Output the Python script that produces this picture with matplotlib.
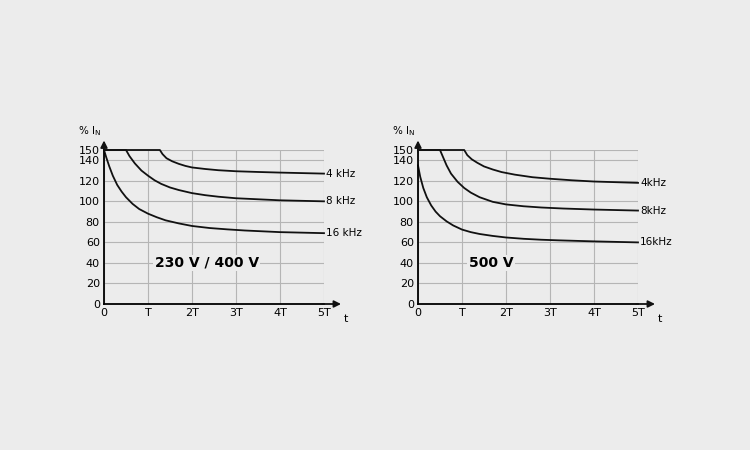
import matplotlib.pyplot as plt
import numpy as np

yticks = [0, 20, 40, 60, 80, 100, 120, 140, 150]
xticks = [0, 1, 2, 3, 4, 5]
xlabels = ['0', 'T', '2T', '3T', '4T', '5T']

L4t = [0, 1.27, 1.33, 1.42, 1.55, 1.7, 1.85, 2.0, 2.3, 2.6, 3.0, 3.5, 4.0, 5.0]
L4v = [150, 150, 146, 142, 139, 136.5, 134.5, 133, 131.5, 130.3, 129.3, 128.6, 128, 127]
L8t = [0, 0.5, 0.58, 0.7, 0.85, 1.0, 1.15, 1.3, 1.5, 1.7, 2.0, 2.3, 2.6, 3.0, 3.5, 4.0, 5.0]
L8v = [150, 150, 144, 137, 130, 125, 120.5, 117, 113.5, 111, 108, 106, 104.5, 103, 102, 101, 100]
L16t = [0, 0.05, 0.12, 0.2, 0.3, 0.4, 0.5, 0.65, 0.8, 1.0, 1.2, 1.4, 1.7, 2.0, 2.4, 2.8, 3.2, 4.0, 5.0]
L16v = [150, 143, 134, 125, 116, 109.5, 104, 97.5, 92.5, 88, 84.5, 81.5, 78.5, 76, 74, 72.7, 71.6, 70, 69]

R4t = [0, 1.05, 1.12, 1.22, 1.35, 1.5, 1.7, 1.9, 2.2, 2.6, 3.0, 3.5, 4.0, 5.0]
R4v = [150, 150, 145, 141, 137.5, 134, 131, 128.5, 126, 123.5, 122, 120.5, 119.3, 118]
R8t = [0, 0.5, 0.57, 0.65, 0.75, 0.9, 1.05, 1.2, 1.4, 1.7, 2.0, 2.4, 2.8, 3.3, 4.0, 5.0]
R8v = [150, 150, 143, 135, 127, 119, 113, 108.5, 104, 99.5, 97, 95.2, 94, 93, 92, 91]
R16t = [0, 0.05, 0.12, 0.2, 0.3, 0.4, 0.5, 0.65, 0.8, 1.0, 1.2, 1.4, 1.7, 2.0, 2.4, 2.8, 3.2, 4.0, 5.0]
R16v = [135, 124, 113, 104, 96, 90, 85.5, 80.5, 76.5, 72.5, 70, 68.2, 66.3, 64.8, 63.5, 62.6, 62, 61, 60]

fig = plt.figure(figsize=(7.5, 4.5), dpi=100)
fig.patch.set_facecolor('#ececec')

def panel(left, series, labels, title):
    ax = fig.add_axes([left, 1 - 304/450, 220/750, 154/450])
    ax.set_facecolor('#ececec')
    ax.set_xlim(0, 5)
    ax.set_ylim(0, 150)
    ax.set_yticks(yticks)
    ax.set_xticks(xticks)
    ax.set_xticklabels(xlabels)
    ax.grid(True, color='#b5b5b5', lw=0.8)
    for s in ['top', 'right']:
        ax.spines[s].set_visible(False)
    for s in ['left', 'bottom']:
        ax.spines[s].set_linewidth(1.3)
    ax.tick_params(length=0, labelsize=8, pad=3)
    for (t, v), lab in zip(series, labels):
        ax.plot(t, v, color='#111111', lw=1.3, clip_on=False, solid_joinstyle='round')
        ax.text(5.05, v[-1], lab, fontsize=7.5, va='center', ha='left')
    ax.annotate('', xy=(5.45, 0), xytext=(4.9, 0), xycoords='data',
                arrowprops=dict(arrowstyle='-|>', color='#111111', lw=1.3), annotation_clip=False)
    ax.annotate('', xy=(0, 162), xytext=(0, 145),
                arrowprops=dict(arrowstyle='-|>', color='#111111', lw=1.3), annotation_clip=False)
    ax.text(-0.6, 162, '% I$_\\mathregular{N}$', fontsize=7.5, ha='left', va='bottom')
    ax.text(5.5, -15, 't', fontsize=8, ha='center', va='center')
    ax.text(1.15, 40, title, fontsize=10, fontweight='bold', va='center', ha='left',
            bbox=dict(facecolor='#ececec', edgecolor='none', pad=1))
    return ax

panel(104/750, [(L4t, L4v), (L8t, L8v), (L16t, L16v)], ['4 kHz', '8 kHz', '16 kHz'], '230 V / 400 V')
panel(418/750, [(R4t, R4v), (R8t, R8v), (R16t, R16v)], ['4kHz', '8kHz', '16kHz'], '500 V')

fig.savefig('out.png', dpi=100, facecolor=fig.get_facecolor())
